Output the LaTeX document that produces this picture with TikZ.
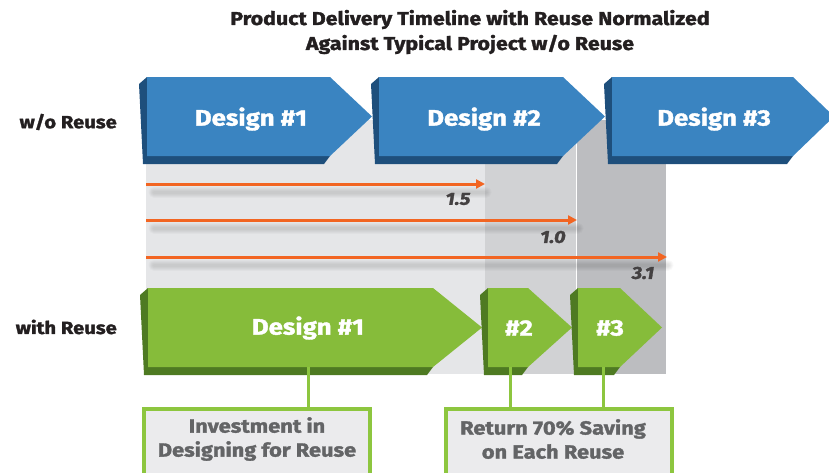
\documentclass[tikz,border=0pt]{standalone}
\usepackage{fontspec}
\setmainfont{Fira Sans}[FakeStretch=1.15, BoldFeatures={FakeBold=1.6}, BoldItalicFeatures={FakeBold=1.6}]
\usetikzlibrary{arrows.meta}
\definecolor{bfront}{HTML}{3A84C1}
\definecolor{bdark}{HTML}{1E4F7C}
\definecolor{gfront}{HTML}{86BC3A}
\definecolor{gdark}{HTML}{4E7A22}
\definecolor{orng}{HTML}{F26522}
\definecolor{grA}{HTML}{E5E6E8}
\definecolor{grB}{HTML}{D1D2D4}
\definecolor{grC}{HTML}{BCBDC0}
\definecolor{boxfill}{HTML}{EBEBED}
\definecolor{boxline}{HTML}{8DC63F}
\definecolor{txtgrey}{HTML}{636466}
\definecolor{ink}{HTML}{231F20}
\newcommand\tdarrow[7]{%
  \fill[#7] (#1,#2) -- (#1-8,#2+7) -- (#1-4,#4+8) -- (#3-6,#4+8) -- (#3,#4) -- cycle;
  \fill[#6] (#1,#2) -- (#3,#2) -- (#5,{(#2+#4)/2}) -- (#3,#4) -- (#1,#4) -- cycle;
}
\tikzset{
  arrtext/.style={text=white, font=\fontsize{22.4}{27}\selectfont\bfseries, inner sep=0pt},
  rowlabel/.style={text=ink, font=\fontsize{17.6}{20}\selectfont\bfseries, anchor=east, inner sep=0pt},
  titletext/.style={text=ink, font=\fontsize{18.6}{25}\selectfont\bfseries, align=center, inner sep=0pt},
  ratio/.style={text=ink!85, font=\fontsize{17.5}{20}\selectfont\bfseries\itshape, inner sep=0pt},
  timearrow/.style={draw=orng, line width=3pt, -{Triangle[length=9pt,width=9pt]}},
  arrshadow/.style={line width=#1, draw=black, opacity=0.022, line cap=round},
  callout/.style={draw=boxline, fill=boxfill, line width=4pt, minimum width=226pt, minimum height=72pt, inner sep=0pt},
  callouttext/.style={text=txtgrey, font=\fontsize{19}{24}\selectfont\bfseries, align=center, inner sep=0pt},
  link/.style={draw=boxline, line width=3pt}
}
\begin{document}
\begin{tikzpicture}[x=1pt,y=-1pt]
\useasboundingbox (0,0) rectangle (829,472);
\clip (0,0) rectangle (829,472);
% title
\node[titletext] (title) at (470,32) {Product Delivery Timeline with Reuse Normalized\\Against Typical Project w/o Reuse};
% grey panels
\fill[grA] (146,120) rectangle (485,374);
\fill[grB] (485,120) rectangle (576,374);
\fill[grC] (577,120) rectangle (666,374);
% row labels
\node[rowlabel] (lwo) at (117,122) {w/o Reuse};
\node[rowlabel] (lwith) at (117,327) {with Reuse};
% blue arrows
\tdarrow{147}{77}{330}{156}{372}{bfront}{bdark}
\tdarrow{379}{77}{563}{156}{605}{bfront}{bdark}
\tdarrow{612}{77}{793}{156}{834}{bfront}{bdark}
\node[arrtext] (d1) at (251,119) {Design \#1};
\node[arrtext] (d2) at (484,119) {Design \#2};
\node[arrtext] (d3) at (714,119) {Design \#3};
% time arrows with soft shadows
\coordinate (s1) at (146,184); \coordinate (e1) at (485,184);
\coordinate (s2) at (146,220); \coordinate (e2) at (577,220);
\coordinate (s3) at (146,257); \coordinate (e3) at (667,257);
\foreach \w in {11,9,7,5,3}{
  \draw[arrshadow=\w pt] (154,192) -- (486,192);
  \draw[arrshadow=\w pt] (154,228) -- (578,228);
  \draw[arrshadow=\w pt] (154,265) -- (668,265);
}
\draw[timearrow] (s1) -- (e1);
\draw[timearrow] (s2) -- (e2);
\draw[timearrow] (s3) -- (e3);
\node[ratio] (r1) at (458,199) {1.5};
\node[ratio] (r2) at (553,237) {1.0};
\node[ratio] (r3) at (643,273) {3.1};
% green arrows
\tdarrow{148}{288}{433}{367}{482}{gfront}{gdark}
\tdarrow{488}{288}{528}{367}{572}{gfront}{gdark}
\tdarrow{578}{288}{620}{367}{662}{gfront}{gdark}
\node[arrtext] (g1) at (308,328) {Design \#1};
\node[arrtext] (g2) at (519,328) {\#2};
\node[arrtext] (g3) at (610,328) {\#3};
% callouts
\node[callout] (b1) at (257,445) {};
\node[callout] (b2) at (558.5,445) {};
\node[callouttext] (t1) at (257,439) {Investment in\\Designing for Reuse};
\node[callouttext] (t2) at (553,439) {Return 70\% Saving\\on Each Reuse};
\coordinate (c1) at (308,367);
\coordinate (c2) at (510,367);
\coordinate (c3) at (603,367);
\draw[link] (c1) -- (b1.north -| c1);
\draw[link] (c2) -- (b2.north -| c2);
\draw[link] (c3) -- (b2.north -| c3);
\end{tikzpicture}
\end{document}
